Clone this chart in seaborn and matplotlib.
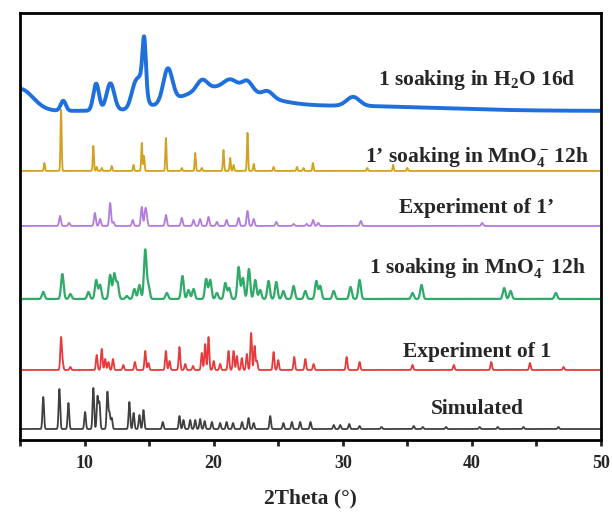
import numpy as np
import pandas as pd
import matplotlib.pyplot as plt
import seaborn as sns

# Peak positions (2Theta) and heights
sim_pos = [6.8, 8.05, 8.75, 10.04, 10.68, 11.0, 11.15, 11.77, 11.93, 12.1, 13.47, 13.8,
           14.25, 14.56, 16.06, 17.35, 17.66, 18.18, 18.57, 18.95, 19.3, 19.86, 20.5,
           21.0, 21.5, 22.2, 22.7, 23.1, 24.38, 25.4, 26.06, 26.7, 27.5, 29.3, 29.8,
           30.5, 31.3, 33.0, 35.5, 36.2, 38.0, 40.6, 42.0, 44.0, 46.7]
sim_h = [32, 40, 26, 17, 41, 32, 26, 37, 16, 11, 27, 16,
         14, 19, 7, 13, 9, 9, 9, 10, 8, 7, 6,
         7, 6, 7, 11, 6, 13, 6, 7, 7, 7, 4, 4,
         5, 3, 2, 3, 2, 2, 2, 2, 2, 2]

exp1_pos = [8.18, 8.3, 8.9, 10.94, 11.33, 11.6, 11.85, 12.2, 13.0, 13.9, 14.7, 14.95,
            16.3, 16.58, 17.35, 17.8, 18.4, 19.08, 19.34, 19.6, 20.0, 20.5, 21.15,
            21.54, 21.8, 22.18, 22.57, 22.9, 23.17, 23.35, 24.64, 25.0, 26.24, 27.1,
            27.74, 30.3, 31.3, 35.4, 38.6, 41.5, 44.5, 47.1]
exp1_h = [32, 7, 3, 15, 21, 11, 8, 11, 5, 8, 19, 7,
          19, 9, 23, 6, 4, 17, 26, 33, 9, 6, 19,
          19, 14, 12, 16, 37, 24, 9, 18, 10, 13, 11,
          6, 13, 8, 5, 5, 8, 7, 3]

mno4_pos = [6.8, 8.28, 8.9, 10.3, 10.9, 11.2, 11.98, 12.3, 12.55, 13.27, 13.86, 14.25,
            14.7, 14.95, 16.37, 17.58, 18.05, 18.44, 19.42, 19.73, 20.25, 20.9, 21.2,
            21.93, 22.26, 22.73, 23.22, 23.6, 24.25, 24.85, 25.4, 26.19, 27.1, 27.95,
            28.25, 29.3, 30.6, 31.3, 35.4, 36.1, 42.5, 43.0, 46.5]
mno4_h = [7, 25, 5, 7, 19, 14, 24, 25, 16, 3, 10, 14,
          49, 13, 6, 23, 9, 10, 20, 19, 6, 16, 11,
          32, 21, 30, 19, 9, 18, 17, 8, 13, 8, 18,
          13, 8, 12, 19, 6, 14, 11, 8, 6]

exp1p_pos = [8.1, 8.8, 10.8, 11.2, 11.98, 12.23, 13.73, 14.43, 14.7, 14.8, 16.3, 17.53,
             18.44, 18.95, 19.6, 20.25, 21.0, 21.93, 22.62, 23.1, 24.85, 26.19, 27.2,
             27.7, 28.1, 31.4, 40.8]
exp1p_h = [10, 3, 13, 7, 23, 4, 6, 19, 14, 9, 11, 8,
           6, 7, 9, 4, 6, 8, 15, 7, 4, 2, 2,
           6, 3, 5, 3]

mno4p_pos = [6.89, 8.18, 10.68, 10.94, 11.33, 12.1, 13.79, 14.43, 14.6, 16.3, 17.53,
             18.57, 19.08, 20.76, 21.28, 21.54, 22.62, 23.1, 24.64, 26.45, 26.96, 27.69,
             31.9, 33.9, 35.0]
mno4p_h = [8, 61, 25, 4, 3, 5, 6, 28, 15, 33, 3,
           18, 3, 21, 13, 6, 38, 7, 4, 4, 3, 8,
           3, 6, 3]

h2o_pos = [5.0, 8.35, 10.9, 12.0, 13.9, 14.45, 14.62, 16.45, 19.1, 21.3, 22.6, 20.5,
           24.2, 30.8, 30.0]
h2o_h = [22, 10, 27, 27, 22, 25, 48, 33, 10, 8, 10, 22,
         6, 9, 5]
h2o_w = [1.0, 0.2, 0.22, 0.3, 0.3, 0.3, 0.13, 0.35, 0.4, 0.5, 0.4, 3.0,
         0.4, 0.5, 7.0]

names = ["Simulated", "Experiment of 1", "1 soaking in MnO$_4^-\\,$12h",
         "Experiment of 1\u2019", "1\u2019 soaking in MnO$_4^-\\,$12h",
         "1 soaking in H$_2$O 16d"]

# layout / style
offsets = [11, 70, 141, 214, 269, 329]
widths = [0.06, 0.06, 0.1, 0.07, 0.045, None]
colors = ["#404040", "#e83a3c", "#2faa68", "#b27be0", "#d4a020", "#1f6fdc"]
lws = [1.3, 1.3, 1.6, 1.3, 1.3, 2.8]
label_y = [31, 88, 172, 232, 283, 360]

grid = np.linspace(5, 50, 9001)


def pattern(pos, h, w):
    w = np.broadcast_to(np.asarray(w, dtype=float), (len(pos),))
    y = np.zeros_like(grid)
    for p, a, s in zip(pos, h, w):
        y += a * np.exp(-0.5 * ((grid - p) / s) ** 2)
    return y


traces = [(sim_pos, sim_h), (exp1_pos, exp1_h), (mno4_pos, mno4_h),
          (exp1p_pos, exp1p_h), (mno4p_pos, mno4p_h), (h2o_pos, h2o_h)]

sns.set_style("ticks")
plt.rcParams['font.family'] = ['Liberation Serif', 'DejaVu Serif']
plt.rcParams['font.weight'] = 'bold'
plt.rcParams['mathtext.fontset'] = 'custom'
plt.rcParams['mathtext.rm'] = 'Liberation Serif:bold'
plt.rcParams['mathtext.it'] = 'Liberation Serif:bold'
plt.rcParams['mathtext.bf'] = 'Liberation Serif:bold'

fig = plt.figure(figsize=(6.12, 5.15), dpi=100)
ax = fig.add_axes([0.0327, 0.1456, 0.9493, 0.8294])

for i, (pos, h) in enumerate(traces):
    w = h2o_w if i == 5 else widths[i]
    df = pd.DataFrame({'theta': grid, 'intensity': offsets[i] + pattern(pos, h, w)})
    sns.lineplot(data=df, x='theta', y='intensity', ax=ax, color=colors[i],
                 linewidth=lws[i], estimator=None, sort=False)
    ax.text(40.4, label_y[i], names[i], ha='center', va='center',
            fontsize=15.5, fontweight='bold')

ax.set_xlim(5, 50)
ax.set_ylim(0, 427)
ax.set_yticks([])
ax.set_xticks([10, 20, 30, 40, 50])
ax.set_xticks([5, 15, 25, 35, 45], minor=True)
ax.tick_params(axis='x', which='both', direction='out', length=4, width=2, pad=7)
for lab in ax.get_xticklabels():
    lab.set_fontsize(13)
    lab.set_fontweight('bold')
ax.set_xlabel('2Theta (\u00b0)', fontsize=15.5, fontweight='bold', labelpad=12)
ax.set_ylabel('')
for sp in ax.spines.values():
    sp.set_linewidth(2)
    sp.set_color('black')

fig.savefig('out.png', dpi=100)
